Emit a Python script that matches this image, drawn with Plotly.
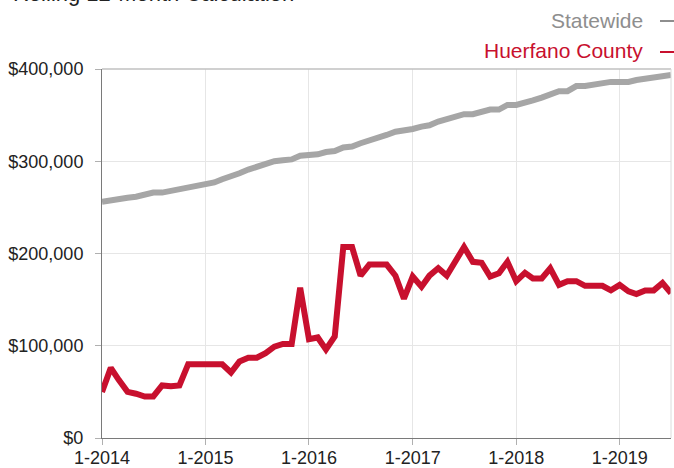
import plotly.graph_objects as go
import pandas as pd

months = pd.date_range("2014-01-01", "2019-07-01", freq="MS").strftime("%Y-%m-%d").tolist()

statewide = [256000, 257000, 259000, 260500, 261500, 264000, 266000, 266000, 268000, 270500,
             272000, 274500, 276000, 277000, 280500, 283000, 287000, 291000, 294000, 297000,
             300000, 301000, 302000, 306000, 306000, 307500, 310000, 311000, 315000, 316000,
             319500, 322000, 325000, 328500, 332000, 333000, 335000, 337500, 339000, 343000,
             346000, 349000, 351000, 351000, 354000, 356000, 356000, 361000, 361000, 363000,
             366000, 369000, 372000, 376000, 376000, 381500, 381500, 383000, 386000, 386000,
             386000, 386000, 388000, 389500, 391600, 391600, 393500]

huerfano = [50000, 76000, 63000, 50000, 48000, 45000, 45000, 57000, 56000, 57000,
            80000, 80000, 80000, 80000, 80000, 71000, 83000, 87000, 87000, 92000,
            99000, 102000, 102000, 163000, 107000, 109000, 96000, 110000, 207000, 207000,
            176000, 188000, 188000, 188000, 176000, 151000, 175000, 164000, 176000, 184000,
            176000, 191000, 207000, 191000, 190000, 175000, 178500, 191000, 170000, 179000,
            173000, 173000, 184000, 166000, 170000, 170000, 165000, 165000, 165000, 160000,
            166000, 159000, 156000, 160000, 160000, 168000, 157000]

year_ticks = ["2014-01-01", "2015-01-01", "2016-01-01", "2017-01-01", "2018-01-01", "2019-01-01"]
year_labels = ["1-2014", "1-2015", "1-2016", "1-2017", "1-2018", "1-2019"]
y_ticks = [0, 100000, 200000, 300000, 400000]
y_labels = ["$0", "$100,000", "$200,000", "$300,000", "$400,000"]

GRAY = "#a6a6a6"
RED = "#c8102e"
LEGEND_GRAY = "#8e8e8e"
FONT = "Liberation Sans, Arial, Helvetica, sans-serif"

# plot area in pixels
L, R, T, B = 102, 671, 69, 438
W, H = R - L, B - T


def px(x):
    return (x - L) / W


def py(y):
    return (B - y) / H


fig = go.Figure()
fig.add_trace(go.Scatter(x=months, y=statewide, mode="lines", name="Statewide",
                         line=dict(color=GRAY, width=6), showlegend=False))
fig.add_trace(go.Scatter(x=months, y=huerfano, mode="lines", name="Huerfano County",
                         line=dict(color=RED, width=6), showlegend=False))

fig.update_layout(
    width=674, height=468,
    margin=dict(l=L, r=674 - R, t=T, b=468 - B, autoexpand=False),
    paper_bgcolor="white", plot_bgcolor="white",
    font=dict(family=FONT, size=18, color="#222222"),
    xaxis=dict(range=["2014-01-01", "2019-07-01"], tickvals=year_ticks, ticktext=year_labels,
               showgrid=True, gridcolor="#e6e6e6", gridwidth=1,
               showline=True, linecolor="#7a7a7a", linewidth=1,
               ticks="outside", ticklen=6, tickcolor="#b0b0b0", ticklabelstandoff=-3,
               tickfont=dict(size=18, color="#222222"), zeroline=False),
    yaxis=dict(range=[0, 400000], tickvals=y_ticks, ticktext=y_labels,
               showgrid=True, gridcolor="#e6e6e6", gridwidth=1,
               showline=True, linecolor="#7a7a7a", linewidth=1,
               ticks="outside", ticklen=6, tickcolor="#b0b0b0", ticklabelstandoff=8,
               tickfont=dict(size=18, color="#222222"), zeroline=False),
    shapes=[
        dict(type="line", xref="paper", yref="paper", x0=0, x1=1, y0=1, y1=1,
             line=dict(color="#c0c0c0", width=1.5)),
        dict(type="line", xref="paper", yref="paper", x0=1, x1=1, y0=0, y1=1,
             line=dict(color="#dcdcdc", width=1)),
        dict(type="line", xref="paper", yref="paper", x0=px(660), x1=px(676), y0=py(21), y1=py(21),
             line=dict(color=LEGEND_GRAY, width=2)),
        dict(type="line", xref="paper", yref="paper", x0=px(660), x1=px(676), y0=py(52), y1=py(52),
             line=dict(color=RED, width=2)),
    ],
    annotations=[
        dict(text="Rolling 12-Month Calculation", xref="paper", yref="paper",
             x=px(11), y=py(-6), xanchor="left", yanchor="middle",
             showarrow=False, font=dict(size=22, color="#222222", family=FONT)),
        dict(text="Statewide", xref="paper", yref="paper",
             x=px(645), y=py(20), xanchor="right", yanchor="middle",
             showarrow=False, font=dict(size=21, color=LEGEND_GRAY, family=FONT)),
        dict(text="Huerfano County", xref="paper", yref="paper",
             x=px(645), y=py(51), xanchor="right", yanchor="middle",
             showarrow=False, font=dict(size=21, color=RED, family=FONT)),
    ],
)

fig.write_html("out.html", config={"displayModeBar": False},
               post_script="document.body.style.margin='0';document.body.style.overflow='hidden';")
